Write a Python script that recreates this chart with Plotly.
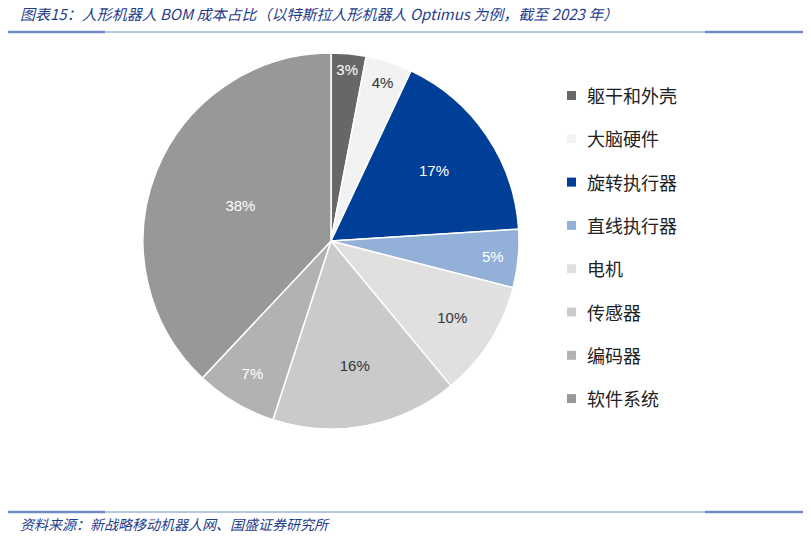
import plotly.graph_objects as go

labels = ['躯干和外壳', '大脑硬件', '旋转执行器', '直线执行器', '电机', '传感器', '编码器', '软件系统']
values = [3, 4, 17, 5, 10, 16, 7, 38]
colors = ['#676767', '#f2f2f2', '#003f98', '#93b1d8', '#e0e0e0', '#cacaca', '#b2b2b2', '#989898']
text_colors = ['white', '#333', 'white', 'white', '#333', '#333', 'white', 'white']

W, H = 811, 537
OFF = 8  # page body margin shifts the plot by ~8px


def px(x):
    return (x - OFF) / W


def py(y):
    return 1 - (y - OFF) / H


fig = go.Figure(go.Pie(
    labels=labels, values=values, sort=False, direction='clockwise', rotation=0,
    marker=dict(colors=colors, line=dict(color='white', width=1.5)),
    texttemplate='%{value}%', textposition='inside', insidetextorientation='horizontal',
    textfont=dict(size=15, color=text_colors, family='Liberation Sans'),
    domain=dict(x=[px(143), px(519)], y=[py(429), py(53)]),
    showlegend=False, hoverinfo='label+percent',
))

blue = '#1f3d8c'
# legend drawn as annotations
for i, (lab, col) in enumerate(zip(labels, colors)):
    y = 95 + i * 43.3
    fig.add_shape(type='rect', xref='paper', yref='paper',
                  x0=px(567), x1=px(576), y0=py(y + 5), y1=py(y - 4),
                  fillcolor=col, line=dict(width=0))
    fig.add_annotation(x=px(585), y=py(y), xref='paper', yref='paper', text=lab,
                       showarrow=False, xanchor='left', yanchor='middle',
                       font=dict(size=18, color='#222', family='Noto Sans CJK SC'))

fig.add_annotation(x=px(18), y=py(14), xref='paper', yref='paper',
                   text='<i>图表15：人形机器人 BOM 成本占比（以特斯拉人形机器人 Optimus 为例，截至 2023 年）</i>',
                   showarrow=False, xanchor='left', yanchor='middle',
                   font=dict(size=15, color=blue, family='Noto Sans CJK SC'))
fig.add_annotation(x=px(18), y=py(524), xref='paper', yref='paper',
                   text='<i>资料来源：新战略移动机器人网、国盛证券研究所</i>',
                   showarrow=False, xanchor='left', yanchor='middle',
                   font=dict(size=14, color=blue, family='Noto Sans CJK SC'))
for y0 in [32, 512]:
    for x0, x1, w in [(0, 105, 2.5), (105, 705, 1), (705, 811, 2.5)]:
        fig.add_shape(type='line', xref='paper', yref='paper', x0=px(x0), x1=px(x1),
                      y0=py(y0), y1=py(y0), line=dict(color='#6f8cc4', width=w))

fig.update_layout(width=W, height=H, margin=dict(l=0, r=0, t=0, b=0),
                  paper_bgcolor='white', plot_bgcolor='white')
fig.write_html('out.html')
